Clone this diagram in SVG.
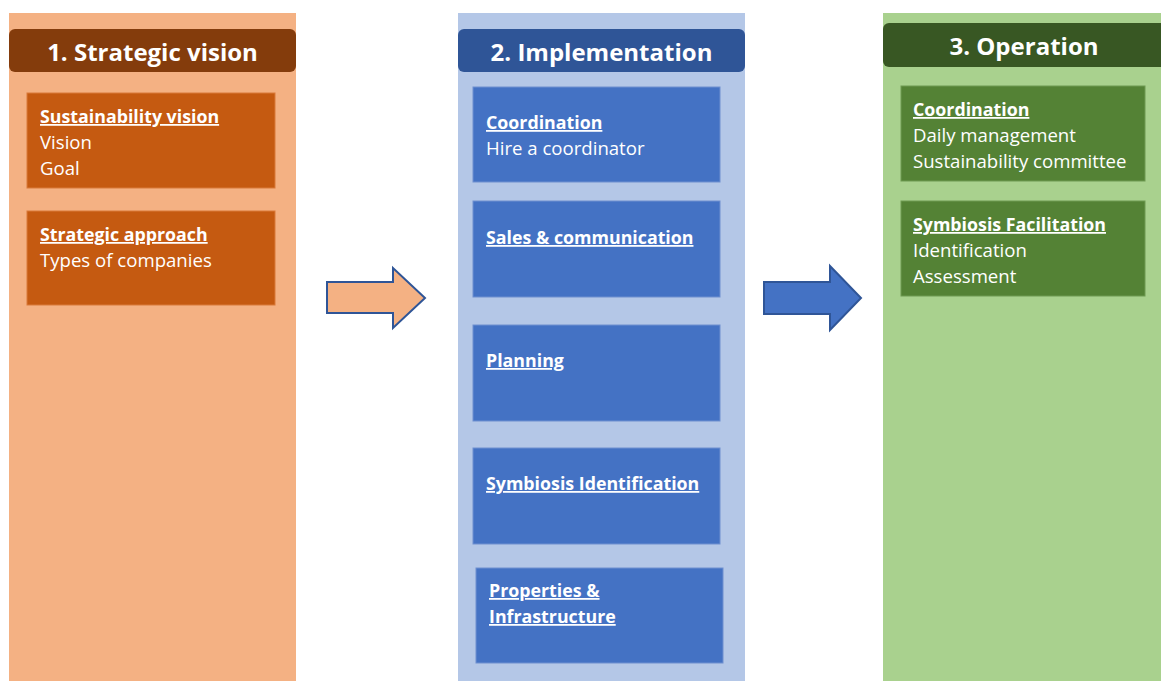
<svg xmlns="http://www.w3.org/2000/svg" width="1161" height="681" viewBox="0 0 1161 681">
  <style>
    text { font-family: "Open Sans", Lato, "Noto Sans", sans-serif; fill: #ffffff; }
    .hdr { font-size: 24px; font-weight: bold; text-anchor: middle; }
    .ttl { font-size: 17.8px; font-weight: bold; text-decoration: underline; }
    .itm { font-size: 18.6px; }
    .box-o { fill: #C55A11; stroke: #D97A3A; stroke-width: 1; }
    .box-b { fill: #4472C4; stroke: #6E90D0; stroke-width: 1; }
    .box-g { fill: #548235; stroke: #6F9A52; stroke-width: 1; }
  </style>

  <!-- phase columns -->
  <g id="col-strategic">
    <rect x="9" y="13" width="287" height="668" fill="#F4B183"/>
    <rect x="9" y="29" width="287" height="43" rx="6" fill="#843C0C"/>
    <text class="hdr" x="152.5" y="61">1. Strategic vision</text>
  </g>
  <g id="col-implementation">
    <rect x="458" y="13" width="287" height="668" fill="#B4C7E7"/>
    <rect x="458" y="29" width="287" height="43" rx="6" fill="#2F5597"/>
    <text class="hdr" x="601.5" y="61">2. Implementation</text>
  </g>
  <g id="col-operation">
    <rect x="883" y="13" width="278" height="668" fill="#A9D18E"/>
    <rect x="883" y="23" width="284" height="44" rx="6" fill="#385723"/>
    <text class="hdr" x="1024" y="55">3. Operation</text>
  </g>

  <!-- strategic vision items -->
  <g id="sustainability-vision">
    <rect class="box-o" x="27" y="93" width="248" height="95"/>
    <text class="ttl" x="40" y="123">Sustainability vision</text>
    <text class="itm" x="40" y="149">Vision</text>
    <text class="itm" x="40" y="175">Goal</text>
  </g>
  <g id="strategic-approach">
    <rect class="box-o" x="27" y="211" width="248" height="94"/>
    <text class="ttl" x="40" y="241">Strategic approach</text>
    <text class="itm" x="40" y="267">Types of companies</text>
  </g>

  <!-- implementation items -->
  <g id="impl-coordination">
    <rect class="box-b" x="473" y="87" width="247" height="95"/>
    <text class="ttl" x="486" y="129">Coordination</text>
    <text class="itm" x="486" y="155">Hire a coordinator</text>
  </g>
  <g id="impl-sales">
    <rect class="box-b" x="473" y="201" width="247" height="96"/>
    <text class="ttl" x="486" y="244">Sales &amp; communication</text>
  </g>
  <g id="impl-planning">
    <rect class="box-b" x="473" y="325" width="247" height="96"/>
    <text class="ttl" x="486" y="367">Planning</text>
  </g>
  <g id="impl-symbiosis">
    <rect class="box-b" x="473" y="448" width="247" height="96"/>
    <text class="ttl" x="486" y="490">Symbiosis Identification</text>
  </g>
  <g id="impl-properties">
    <rect class="box-b" x="476" y="568" width="247" height="95"/>
    <text class="ttl" x="489" y="597">Properties &amp;</text>
    <text class="ttl" x="489" y="623">Infrastructure</text>
  </g>

  <!-- operation items -->
  <g id="op-coordination">
    <rect class="box-g" x="901" y="86" width="244" height="95"/>
    <text class="ttl" x="913" y="116">Coordination</text>
    <text class="itm" x="913" y="142">Daily management</text>
    <text class="itm" x="913" y="168">Sustainability committee</text>
  </g>
  <g id="op-symbiosis">
    <rect class="box-g" x="901" y="201" width="244" height="95"/>
    <text class="ttl" x="913" y="231">Symbiosis Facilitation</text>
    <text class="itm" x="913" y="257">Identification</text>
    <text class="itm" x="913" y="283">Assessment</text>
  </g>

  <!-- block arrows between phases -->
  <g id="connectors" stroke="#2F5597" stroke-width="2" stroke-linejoin="miter">
    <path d="M327,282 H393 V268 L425,298 L393,328 V313 H327 Z" fill="#F4B183"/>
    <path d="M764,282 H830 V266 L861,298 L830,330 V314 H764 Z" fill="#4472C4"/>
  </g>
</svg>
